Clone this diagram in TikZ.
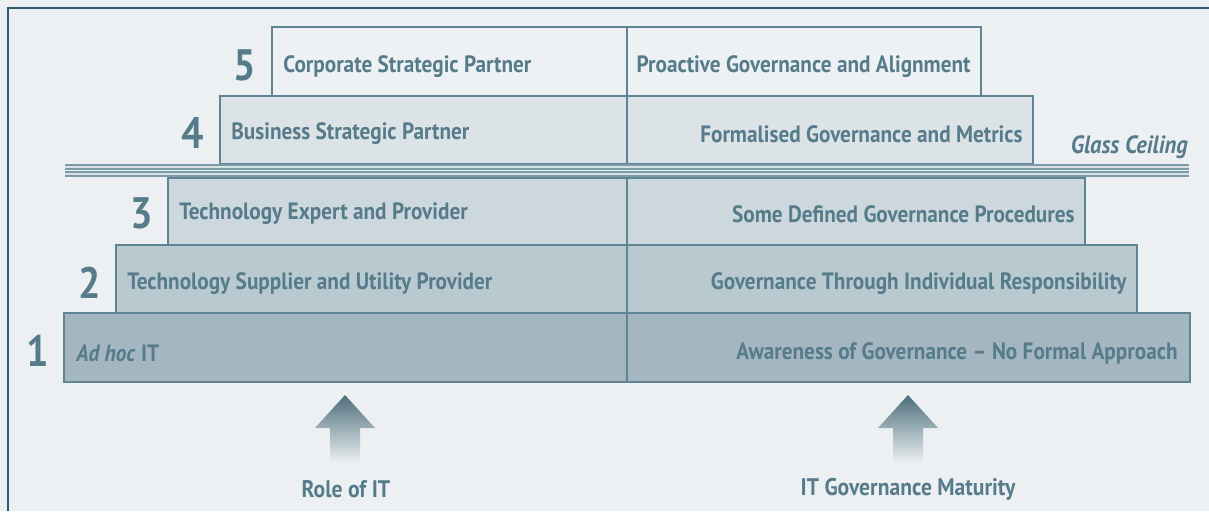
\documentclass[tikz,border=0pt]{standalone}
\usepackage{fontspec}
\setmainfont{PT Sans}[FakeStretch=0.9]
\definecolor{paper}{HTML}{ECF0F3}
\definecolor{frameline}{HTML}{2E5B6F}
\definecolor{edge}{HTML}{5F8493}
\definecolor{ink}{HTML}{567B8A}
\definecolor{tierfive}{HTML}{EDF1F4}
\definecolor{tierfour}{HTML}{DCE3E7}
\definecolor{tierthree}{HTML}{CCD8DD}
\definecolor{tiertwo}{HTML}{B9C9D0}
\definecolor{tierone}{HTML}{A4B7C0}
\definecolor{ceiling}{HTML}{7C9BA8}
\tikzset{
    tier/.style={draw=edge, line width=0.8pt},
    lefttext/.style={anchor=west, text=ink, inner sep=0pt, font=\fontsize{11.8}{14}\selectfont\bfseries},
    righttext/.style={anchor=east, text=ink, inner sep=0pt, font=\fontsize{11.8}{14}\selectfont\bfseries},
    tiernum/.style={text=ink, inner sep=0pt, font=\fontsize{22}{26}\selectfont\bfseries},
    uparrow/.style={top color=ink!90!black, bottom color=paper},
    caption/.style={text=ink, inner sep=0pt, font=\fontsize{12}{14}\selectfont\bfseries}
}
\begin{document}
\begin{tikzpicture}[x=0.5pt, y=-0.5pt]
\useasboundingbox (0,0) rectangle (1209,511);
\fill[paper] (0,0) rectangle (1209,511);
\draw[frameline, line width=1.4pt] (8,511) -- (8,8) -- (1209,8);

% the five tiers, each split in two halves
\draw[tier, fill=tierfive] (272,27) rectangle (627,96);
\draw[tier, fill=tierfive] (627,27) rectangle (981,96);
\draw[tier, fill=tierfour] (220,96) rectangle (627,164);
\draw[tier, fill=tierfour] (627,96) rectangle (1033,164);
\draw[tier, fill=tierthree] (168,178) rectangle (627,245);
\draw[tier, fill=tierthree] (627,178) rectangle (1085,245);
\draw[tier, fill=tiertwo] (116,245) rectangle (627,313);
\draw[tier, fill=tiertwo] (627,245) rectangle (1137,313);
\draw[tier, fill=tierone] (64,313) rectangle (627,382);
\draw[tier, fill=tierone] (627,313) rectangle (1190,382);

% glass ceiling
\draw[ceiling, line width=2.6pt] (65,167) -- (1189,167);
\draw[ceiling, line width=2.6pt] (65,174) -- (1189,174);
\draw[white!70!ceiling, line width=0.6pt] (65,167) -- (1189,167);
\draw[white!70!ceiling, line width=0.6pt] (65,174) -- (1189,174);
\node[text=ink, anchor=east, inner sep=0pt, font=\fontsize{12.5}{14}\selectfont\bfseries\itshape] (ceil) at (1188,147) {Glass Ceiling};

% tier numbers
\node[tiernum] (n5) at (245,65) {5};
\node[tiernum] (n4) at (193,133) {4};
\node[tiernum] (n3) at (142,213) {3};
\node[tiernum] (n2) at (90,283) {2};
\node[tiernum] (n1) at (38,351) {1};

% role of IT
\node[lefttext] (role5) at (283,67) {Corporate Strategic Partner};
\node[lefttext] (role4) at (231,134) {Business Strategic Partner};
\node[lefttext] (role3) at (179,214) {Technology Expert and Provider};
\node[lefttext] (role2) at (127,284) {Technology Supplier and Utility Provider};
\node[lefttext] (role1) at (76,353) {\textit{Ad hoc} IT};

% governance maturity
\node[righttext] (gov5) at (971,67) {Proactive Governance and Alignment};
\node[righttext] (gov4) at (1023,134) {Formalised Governance and Metrics};
\node[righttext] (gov3) at (1075,214) {Some Defined Governance Procedures};
\node[righttext] (gov2) at (1127,284) {Governance Through Individual Responsibility};
\node[righttext] (gov1) at (1178,353) {Awareness of Governance -- No Formal Approach};

% arrows
\shade[uparrow] (345,395) -- (375,428) -- (360,428) -- (360,463) -- (330,463) -- (330,428) -- (315,428) -- cycle;
\shade[uparrow] (908,395) -- (938,428) -- (923,428) -- (923,463) -- (893,463) -- (893,428) -- (878,428) -- cycle;
\node[caption] (rolecap) at (346,489) {Role of IT};
\node[caption] (govcap) at (908,489) {IT Governance Maturity};
\end{tikzpicture}
\end{document}
